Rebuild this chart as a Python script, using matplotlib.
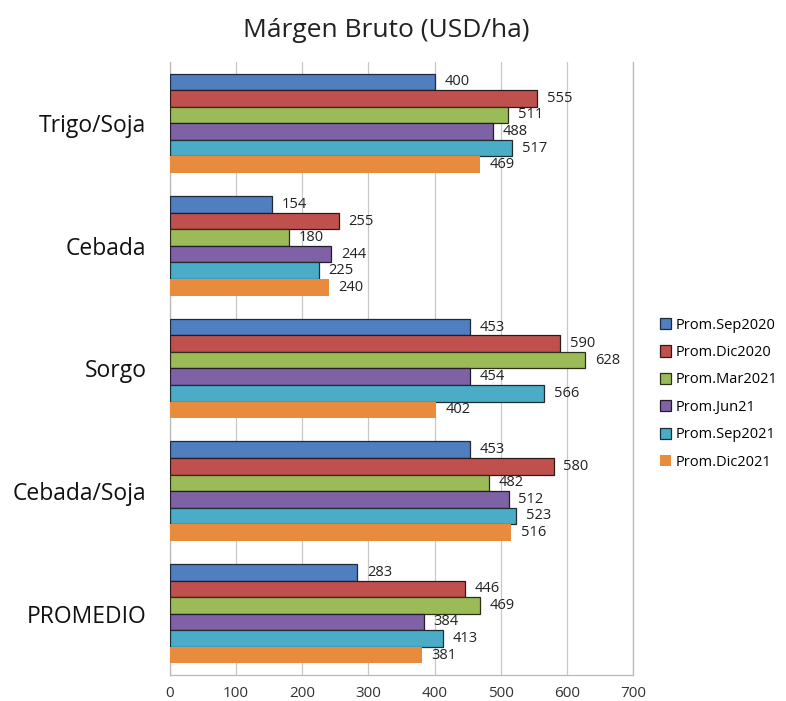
import numpy as np
import matplotlib.pyplot as plt

plt.rcParams.update({"font.family": ["Open Sans", "DejaVu Sans"]})

categories = ["Trigo/Soja", "Cebada", "Sorgo", "Cebada/Soja", "PROMEDIO"]
series = ["Prom.Sep2020", "Prom.Dic2020", "Prom.Mar2021", "Prom.Jun21",
          "Prom.Sep2021", "Prom.Dic2021"]
sep2020 = [400, 154, 453, 453, 283]
dic2020 = [555, 255, 590, 580, 446]
mar2021 = [511, 180, 628, 482, 469]
jun21 = [488, 244, 454, 512, 384]
sep2021 = [517, 225, 566, 523, 413]
dic2021 = [469, 240, 402, 516, 381]
values = [sep2020, dic2020, mar2021, jun21, sep2021, dic2021]

colours = ["#4F7EC1", "#C0504D", "#9BBB59", "#7F61A5", "#4AACC6", "#E98B3D"]
edges = ["#1f2a3a", "#2a1a1a", "#2a2f1a", "#241c2e", "#1a2e33", "none"]

fig = plt.figure(figsize=(7.86, 7.01), dpi=100)
ax = fig.add_axes([0.2163, 0.0371, 0.5890, 0.8745])

h = 0.135
y = np.arange(len(categories))
for i, (name, vals) in enumerate(zip(series, values)):
    pos = y - 3 * h + h / 2 + i * h
    bars = ax.barh(pos, vals, height=h, color=colours[i],
                   edgecolor=edges[i], linewidth=0.9 if edges[i] != "none" else 0,
                   label=name, zorder=3)
    for b, v in zip(bars, vals):
        ax.annotate(str(v), (v, b.get_y() + h / 2), xytext=(7, 0),
                    textcoords="offset points", va="center", ha="left",
                    fontsize=10.5, color="#222222", zorder=4)

ax.set_xlim(0, 700)
ax.set_ylim(len(categories) - 0.5, -0.5)
ax.set_xticks(range(0, 701, 100))
ax.set_yticks(y)
ax.set_yticklabels(categories, fontsize=16.5, color="#111111")
ax.tick_params(axis="y", length=0, pad=17)
ax.tick_params(axis="x", length=0, pad=8, labelsize=11, colors="#333333")
ax.grid(axis="x", color="#C8C8C8", linewidth=0.9, zorder=0)
ax.spines["top"].set_visible(False)
for s in ["left", "bottom", "right"]:
    ax.spines[s].set_color("#B8B8B8")
    ax.spines[s].set_linewidth(0.9)

fig.text(0.491, 0.957, "Márgen Bruto (USD/ha)", ha="center", va="center",
         fontsize=19, color="#222222")

leg = ax.legend(loc="center left", bbox_to_anchor=(1.045, 0.459), frameon=False,
                fontsize=10.5, handlelength=0.8, handleheight=0.8,
                labelspacing=0.85, handletextpad=0.3, borderaxespad=0)

plt.savefig("out.png", dpi=100)
